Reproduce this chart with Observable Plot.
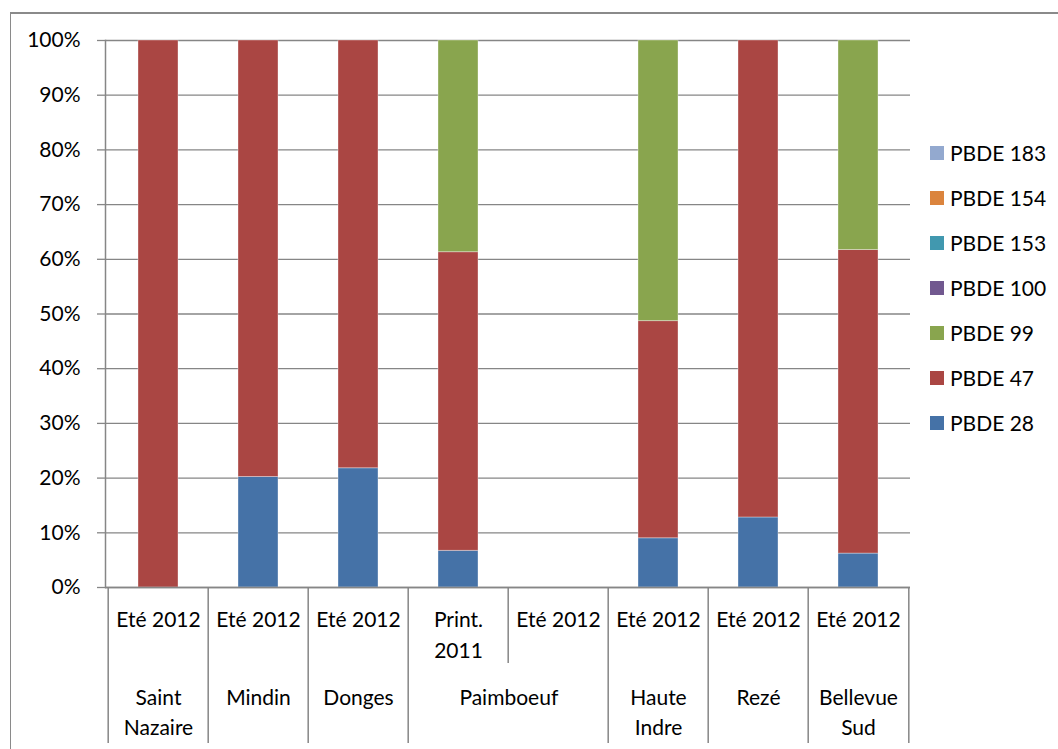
<!DOCTYPE html>
<html>
<head>
<meta charset="utf-8">
<script src="https://cdn.jsdelivr.net/npm/d3@7"></script>
<script src="https://cdn.jsdelivr.net/npm/@observablehq/plot@0.6"></script>
<style>
  body { margin: 0; background: #fff; }
  #chart { position: relative; width: 1058px; height: 749px; overflow: hidden; font-family: Lato, "Open Sans", sans-serif; }
  #border { position: absolute; left: 10px; top: 12px; width: 1200px; height: 900px;
            border-left: 1.5px solid #8a8a8a; border-top: 2px solid #8a8a8a; box-sizing: border-box; }
  #plot { position: absolute; left: 0; top: 0; }
  #legend { position: absolute; left: 930px; top: 130px; display: flex; flex-direction: column; }
  #legend .item { height: 45px; display: flex; align-items: center; font-size: 21px; color: #000; }
  #legend .sw { width: 14px; height: 14px; margin-right: 6px; }
</style>
</head>
<body>
<div id="chart">
  <div id="border"></div>
  <div id="plot"></div>
  <div id="legend"></div>
</div>
<script>
// Sampling sites and campaigns (one bar per campaign)
const sites   = ["Saint\nNazaire", "Mindin", "Donges", "Paimboeuf", "Paimboeuf", "Haute\nIndre", "Rezé", "Bellevue\nSud"];
const seasons = ["Eté 2012", "Eté 2012", "Eté 2012", "Print.\n2011", "Eté 2012", "Eté 2012", "Eté 2012", "Eté 2012"];

// PBDE congeners, bottom of the stack first
const series = ["PBDE 28", "PBDE 47", "PBDE 99", "PBDE 100", "PBDE 153", "PBDE 154", "PBDE 183"];
const colors = ["#4572A7", "#AA4643", "#89A54E", "#71588F", "#4198AF", "#DB843D", "#93A9CF"];

// Share of each congener (%) per campaign
const pbde28  = [0, 20.2, 21.8, 6.7, 0, 9.0, 12.8, 6.2];
const pbde47  = [100, 79.8, 78.2, 54.6, 0, 39.7, 87.2, 55.5];
const pbde99  = [0, 0, 0, 38.7, 0, 51.3, 0, 38.3];
const pbde100 = [0, 0, 0, 0, 0, 0, 0, 0];
const pbde153 = [0, 0, 0, 0, 0, 0, 0, 0];
const pbde154 = [0, 0, 0, 0, 0, 0, 0, 0];
const pbde183 = [0, 0, 0, 0, 0, 0, 0, 0];

const yTicks = [0, 10, 20, 30, 40, 50, 60, 70, 80, 90, 100];

const values = [pbde28, pbde47, pbde99, pbde100, pbde153, pbde154, pbde183];
const n = sites.length;
const slots = d3.range(n);
const rows = series.flatMap((s, j) => values[j].map((v, i) => ({slot: i, series: s, value: v})))
  .filter(d => d.value > 0);

// Layout
const W = 1058, H = 749;
const ML = 105, MR = 148, MT = 40, MB = 162;
const step = (W - ML - MR) / n;        // width of one category slot
const tableDepth = 156;                // category table below the axis
const innerDepth = 76;                 // sub-divider inside a merged site
const grid = "#868686";

// Vertical separators of the category table
const full = d3.range(n + 1).filter(k => k === 0 || k === n || sites[k - 1] !== sites[k]);
const inner = d3.range(1, n).filter(k => sites[k - 1] === sites[k]);

// Site groups (merged cells)
const groups = [];
slots.forEach(i => {
  const g = groups[groups.length - 1];
  if (g && g.site === sites[i]) g.span++;
  else groups.push({site: sites[i], first: i, span: 1});
});
const bySpan = d3.groups(groups, g => g.span);

const chart = Plot.plot({
  width: W, height: H,
  marginLeft: ML, marginRight: MR, marginTop: MT, marginBottom: MB,
  style: {fontFamily: "Lato, 'Open Sans', sans-serif", fontSize: "21px", color: "#000", background: "transparent"},
  x: {domain: slots, paddingInner: 0.6, paddingOuter: 0.3, axis: null},
  y: {domain: [0, 100], axis: null},
  color: {domain: series, range: colors},
  marks: [
    Plot.gridY(yTicks, {stroke: grid, strokeOpacity: 1, strokeWidth: 1.3}),
    Plot.axisY(yTicks, {tickSize: 8, tickPadding: 17, tickFormat: d => d + "%", stroke: grid, strokeWidth: 1.3, label: null, fill: "#000"}),
    Plot.barY(rows, {x: "slot", y: "value", fill: "series", stroke: "#fff", strokeOpacity: 0.35, strokeWidth: 1}),
    Plot.frame({anchor: "left", stroke: grid, strokeWidth: 1.5}),
    Plot.ruleY([0], {stroke: grid, strokeWidth: 1.5}),
    Plot.ruleX(full.filter(k => k < n), {x: k => k, y1: 0, y2: 0, dx: -step / 2, insetBottom: -tableDepth, stroke: grid, strokeWidth: 1.5}),
    Plot.ruleX(full.filter(k => k === n), {x: k => k - 1, y1: 0, y2: 0, dx: step / 2, insetBottom: -tableDepth, stroke: grid, strokeWidth: 1.5}),
    Plot.ruleX(inner, {x: k => k, y1: 0, y2: 0, dx: -step / 2, insetBottom: -innerDepth, stroke: grid, strokeWidth: 1.5}),
    Plot.text(slots, {x: i => i, text: i => seasons[i], frameAnchor: "bottom", lineAnchor: "top", dy: 17, lineHeight: 1.5, fill: "#000"}),
    ...bySpan.map(([span, gs]) => Plot.text(gs, {x: "first", text: "site", frameAnchor: "bottom", lineAnchor: "top", dy: 96, dx: (span - 1) * step / 2, lineHeight: 1.43, fill: "#000"}))
  ]
});
document.getElementById("plot").appendChild(chart);

// Legend, top entry is the last congener
const legend = d3.select("#legend");
series.slice().reverse().forEach(s => {
  const item = legend.append("div").attr("class", "item");
  item.append("div").attr("class", "sw").style("background", colors[series.indexOf(s)]);
  item.append("span").text(s);
});
</script>
</body>
</html>
